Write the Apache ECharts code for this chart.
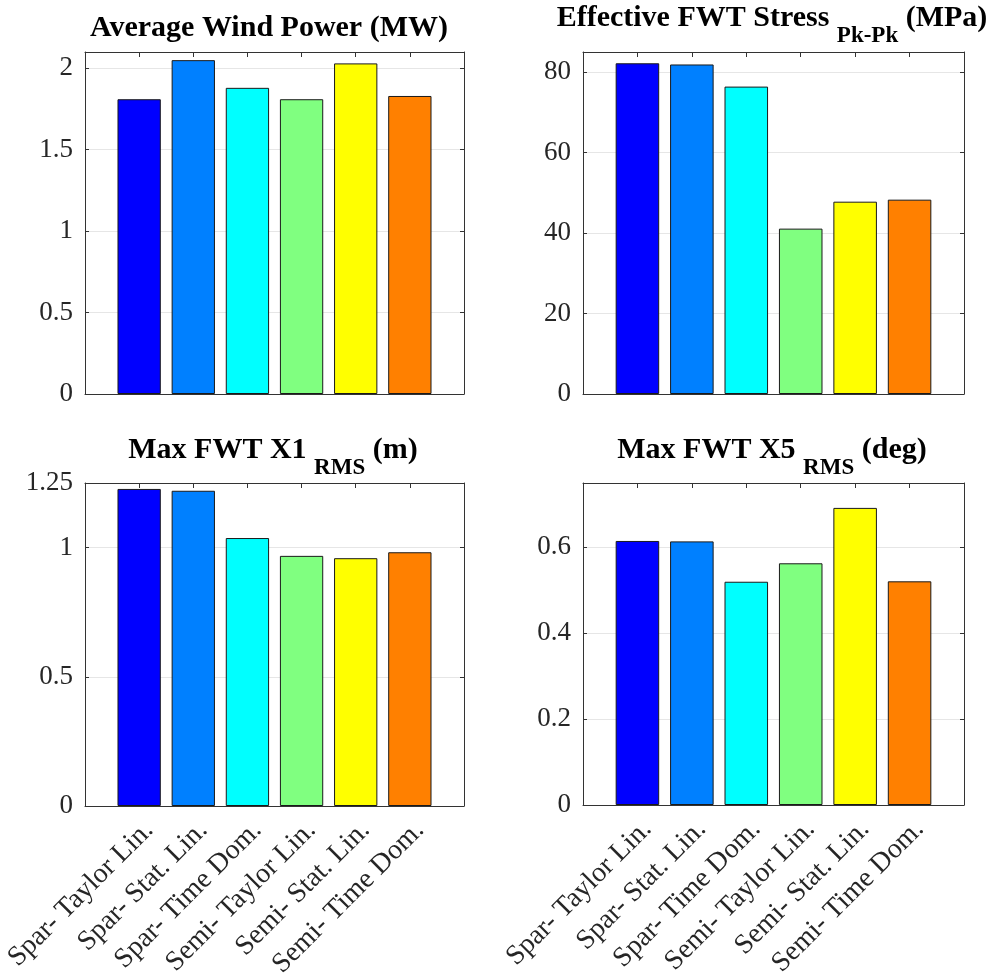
<!DOCTYPE html>
<html>
<head>
<meta charset="utf-8">
<script src="https://cdn.jsdelivr.net/npm/echarts@6/dist/echarts.min.js"></script>
<style>
  html, body { margin: 0; padding: 0; background: #fff; }
  #main { width: 992px; height: 976px; }
</style>
</head>
<body>
<div id="main"></div>
<script>
  // categories shared by all four panels
  var categories = ['Spar- Taylor Lin.', 'Spar- Stat. Lin.', 'Spar- Time Dom.',
                    'Semi- Taylor Lin.', 'Semi- Stat. Lin.', 'Semi- Time Dom.'];
  var barColors = ['#0000ff', '#0080ff', '#00ffff', '#80ff80', '#ffff00', '#ff8000'];

  // values
  var windPower = [1.81, 2.05, 1.88, 1.81, 2.03, 1.83];
  var fwtStress = [82.2, 81.9, 76.4, 41.1, 47.8, 48.3];
  var maxX1 = [1.227, 1.220, 1.037, 0.968, 0.959, 0.982];
  var maxX5 = [0.615, 0.614, 0.520, 0.563, 0.692, 0.521];

  var fontFam = "'Liberation Serif', 'Times New Roman', serif";
  var axisCol = '#333333';
  var labelCol = '#262626';

  // panel layout (pixels)
  var panels = [
    { left: 85,  top: 52,  width: 379, height: 342, data: windPower, yMax: 2.1, yStep: 0.5, showMax: false,
      title: '{a|Average Wind Power (MW)}', tx: 269, ty: 13 },
    { left: 583, top: 52,  width: 381, height: 342, data: fwtStress, yMax: 85, yStep: 20, showMax: false,
      title: '{a|Effective FWT Stress }{s|Pk-Pk}{a| (MPa)}', tx: 772, ty: 3 },
    { left: 85,  top: 483, width: 379, height: 323, data: maxX1, yMax: 1.25, yStep: 0.5, showMax: true,
      title: '{a|Max FWT X1 }{s|RMS}{a| (m)}', tx: 273, ty: 435 },
    { left: 583, top: 483, width: 381, height: 322, data: maxX5, yMax: 0.75, yStep: 0.2, showMax: false,
      title: '{a|Max FWT X5 }{s|RMS}{a| (deg)}', tx: 772, ty: 435 }
  ];

  var grids = [], xAxes = [], yAxes = [], series = [], titles = [];

  panels.forEach(function (p, k) {
    grids.push({
      left: p.left, top: p.top, width: p.width, height: p.height,
      containLabel: false, outerBoundsMode: 'none'
    });

    titles.push({
      text: p.title,
      left: p.tx,
      top: p.ty,
      textAlign: 'center',
      padding: 0,
      textStyle: {
        rich: {
          a: { fontFamily: fontFam, fontWeight: 'bold', fontSize: 30, lineHeight: 30, color: '#000', verticalAlign: 'top' },
          s: { fontFamily: fontFam, fontWeight: 'bold', fontSize: 23, lineHeight: 23, color: '#000', verticalAlign: 'top', padding: [22, 0, 0, 0] }
        }
      }
    });

    var lab = k >= 2;
    var line = { show: true, onZero: false, lineStyle: { color: axisCol, width: 1 } };
    // bottom category-like value axis
    xAxes.push({
      type: 'value', gridIndex: k, position: 'bottom', min: 0, max: 7, interval: 1,
      axisLine: line,
      axisTick: { show: true, inside: true, length: 5, lineStyle: { color: axisCol } },
      splitLine: { show: false },
      axisLabel: {
        show: lab, rotate: 45, margin: 10, align: 'right', verticalAlign: 'top',
        fontFamily: fontFam, fontSize: 28, color: labelCol,
        showMinLabel: false, showMaxLabel: false,
        formatter: function (v) { return categories[v - 1] || ''; }
      }
    });
    // top mirror
    xAxes.push({
      type: 'value', gridIndex: k, position: 'top', min: 0, max: 7, interval: 1,
      axisLine: line,
      axisTick: { show: true, inside: true, length: 5, lineStyle: { color: axisCol } },
      splitLine: { show: false },
      axisLabel: { show: false }
    });
    yAxes.push({
      type: 'value', gridIndex: k, position: 'left', min: 0, max: p.yMax, interval: p.yStep,
      axisLine: line,
      axisTick: { show: true, inside: true, length: 4, lineStyle: { color: axisCol } },
      splitLine: { show: true, lineStyle: { color: '#e6e6e6', width: 1 } },
      axisLabel: {
        margin: 12, fontFamily: fontFam, fontSize: 27, color: labelCol,
        showMaxLabel: p.showMax
      }
    });
    yAxes.push({
      type: 'value', gridIndex: k, position: 'right', min: 0, max: p.yMax, interval: p.yStep,
      axisLine: line,
      axisTick: { show: true, inside: true, length: 4, lineStyle: { color: axisCol } },
      splitLine: { show: false },
      axisLabel: { show: false }
    });

    series.push({
      type: 'bar',
      xAxisIndex: k * 2,
      yAxisIndex: k * 2,
      barWidth: p.width / 7 * 0.8,
      itemStyle: { borderColor: '#1a1a1a', borderWidth: 1 },
      data: p.data.map(function (v, i) {
        return { value: [i + 1, v], itemStyle: { color: barColors[i] } };
      })
    });
  });

  var chart = echarts.init(document.getElementById('main'), null, { renderer: 'canvas' });
  chart.setOption({
    animation: false,
    backgroundColor: '#fff',
    title: titles,
    grid: grids,
    xAxis: xAxes,
    yAxis: yAxes,
    series: series
  });
</script>
</body>
</html>
